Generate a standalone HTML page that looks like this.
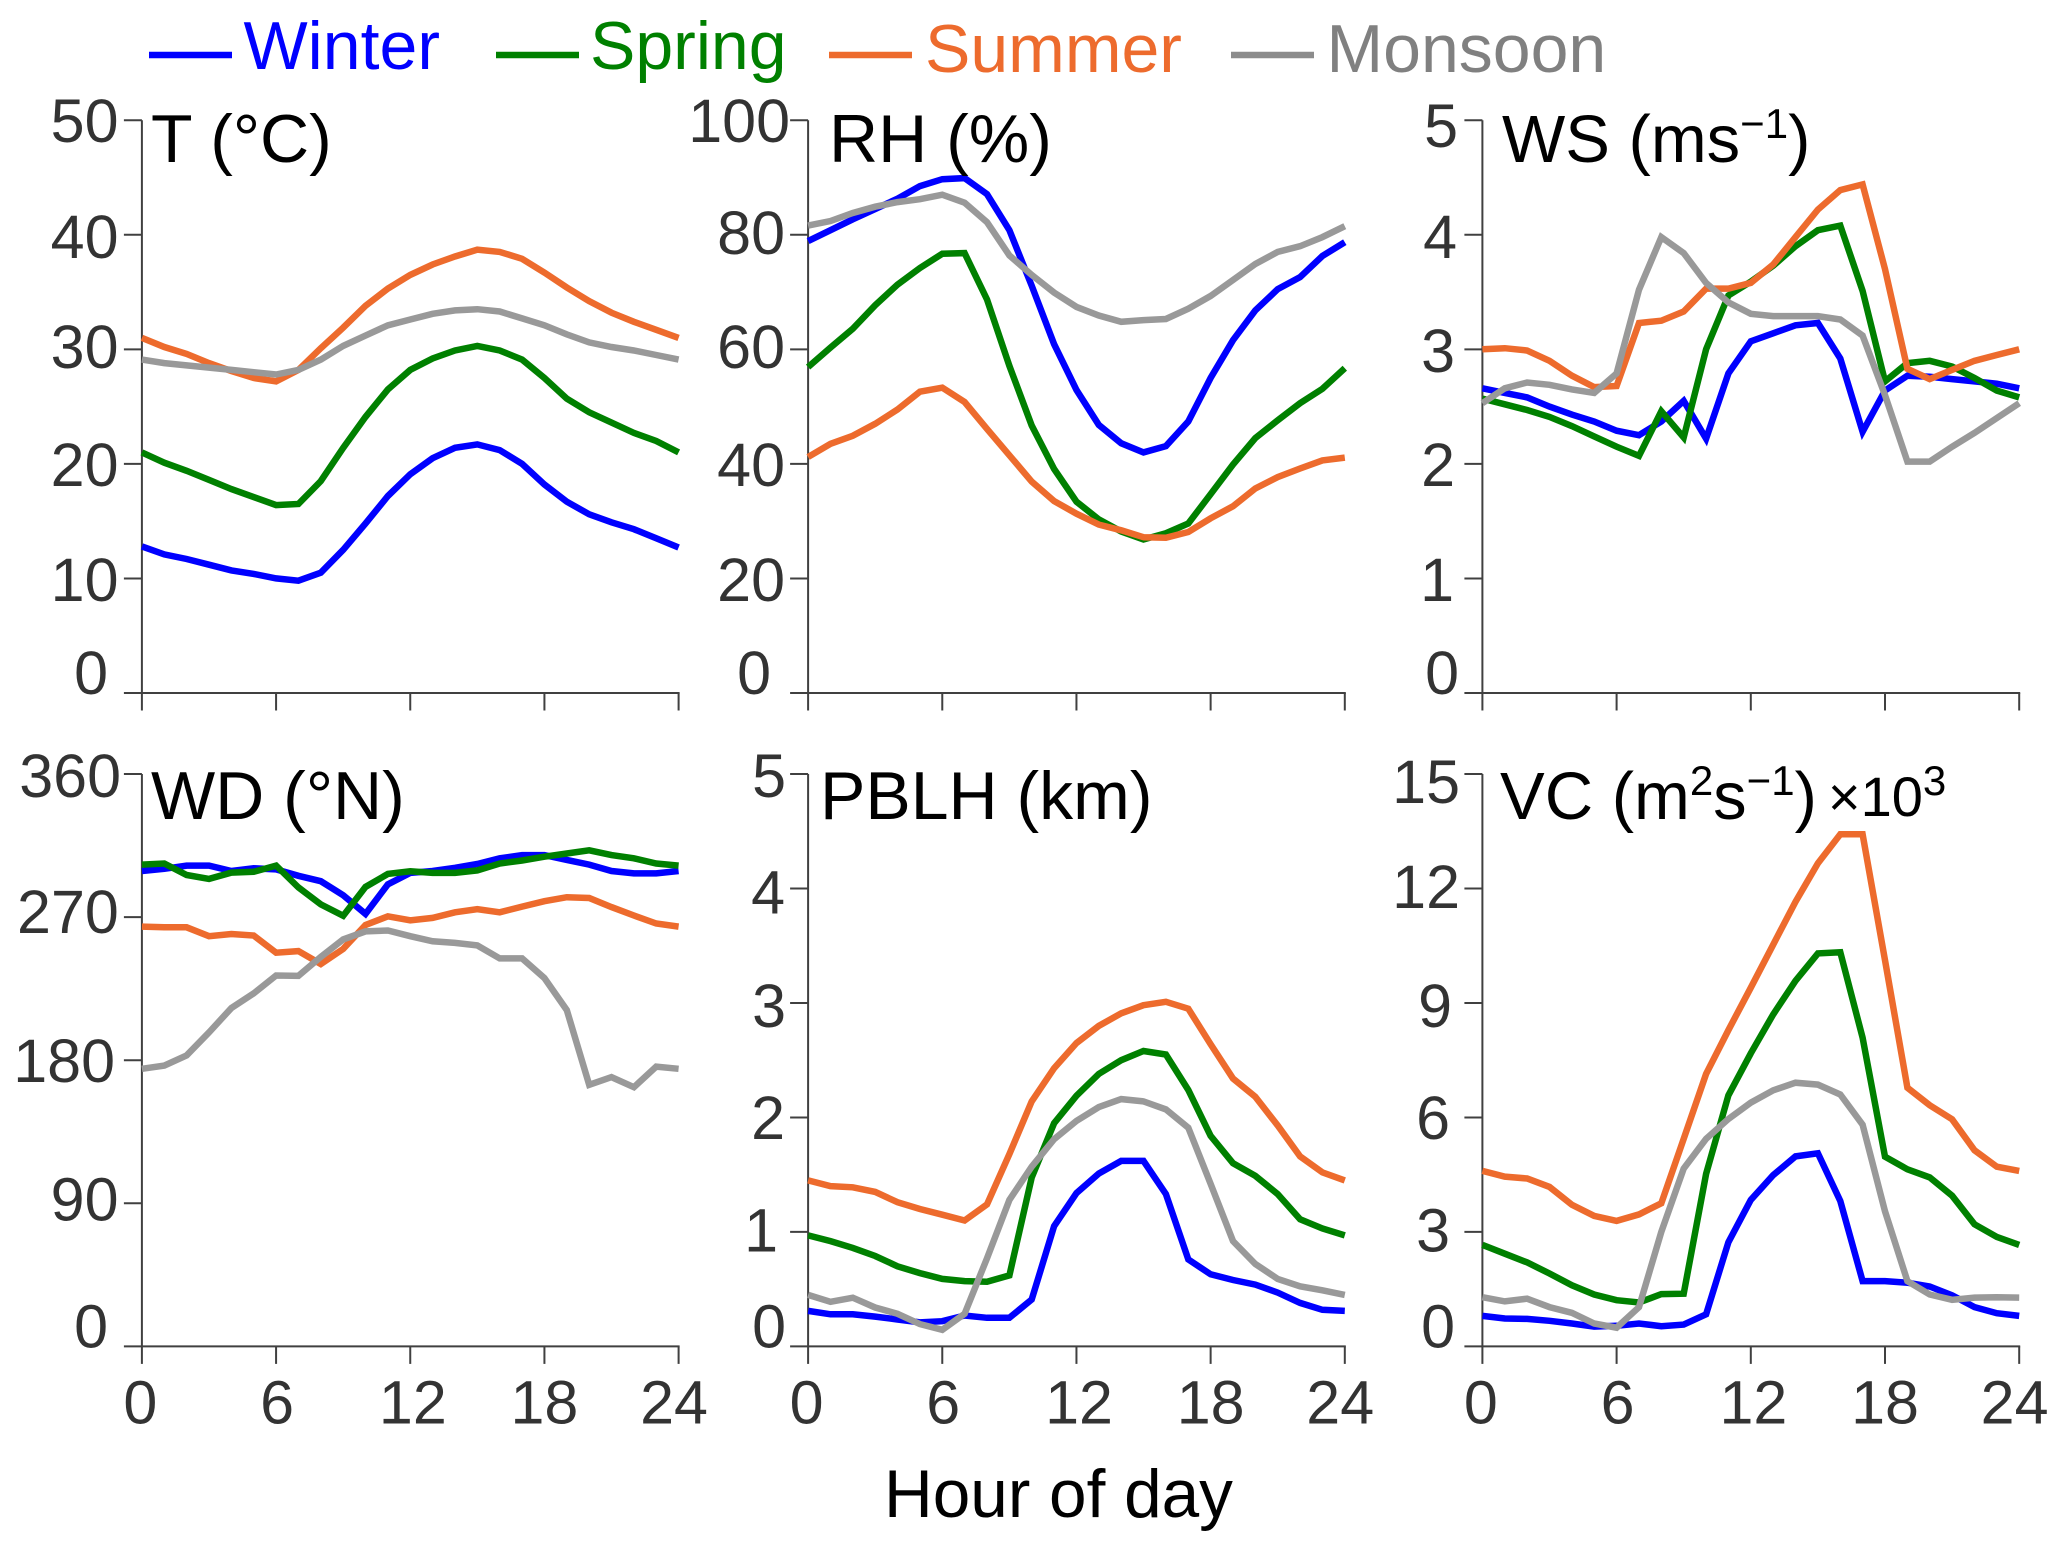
<!DOCTYPE html>
<html lang="en">
<head>
<meta charset="utf-8">
<title>Diurnal variation of meteorological parameters by season</title>
<style>
html,body{margin:0;padding:0;background:#fff;}
svg{display:block;font-family:"Liberation Sans",Arial,sans-serif;}
.title{font-size:68px;fill:#000;}
.title-ws{font-size:67px;}
.sup{font-size:42px;}
.sub-title{font-size:56px;}
.tick-label{font-size:61px;fill:#333333;}
.legend-text{font-size:68px;}
</style>
</head>
<body>
<svg id="chart" xmlns="http://www.w3.org/2000/svg" width="2067" height="1552" viewBox="0 0 2067 1552">
  <rect width="2067" height="1552" fill="#fff"/>
  <g>
    <line x1="149" x2="232" y1="55" y2="55" stroke="#0000ff" stroke-width="6.5"/>
    <text class="legend-text" x="243.5" y="69" fill="#0000ff">Winter</text>
    <line x1="496" x2="579" y1="55" y2="55" stroke="#008000" stroke-width="6.5"/>
    <text class="legend-text" x="590" y="69" fill="#008000">Spring</text>
    <line x1="829" x2="912" y1="55" y2="55" stroke="#ed6b2d" stroke-width="6.5"/>
    <text class="legend-text" x="925" y="72" fill="#ed6b2d">Summer</text>
    <line x1="1231" x2="1314" y1="55" y2="55" stroke="#8c8c8c" stroke-width="6.5"/>
    <text class="legend-text" x="1326.5" y="72" fill="#808080">Monsoon</text>
  </g>
  <g id="panels"></g>
  <g>
    <text class="title" x="151" y="162">T (°C)</text>
    <text class="title" x="829" y="162">RH (%)</text>
    <text class="title title-ws" x="1502" y="162">WS (ms<tspan class="sup" dy="-24">−1</tspan><tspan dy="24">)</tspan></text>
    <text class="title" x="151" y="819">WD (°N)</text>
    <text class="title" x="820" y="819">PBLH (km)</text>
    <text class="title title-ws" x="1500" y="819">VC (m<tspan class="sup" dy="-24">2</tspan><tspan dy="24">s</tspan><tspan class="sup" dy="-24">−1</tspan><tspan dy="24">)</tspan><tspan class="sub-title" dx="11" dy="-3">×10</tspan><tspan class="sup" dy="-21">3</tspan></text>
  </g>
  <text class="title" x="884" y="1517" style="font-size:67.5px">Hour of day</text>
</svg>
<script>
// ---------- data ----------
const hours = [0,1,2,3,4,5,6,7,8,9,10,11,12,13,14,15,16,17,18,19,20,21,22,23,24];
const seasons = ['winter','spring','summer','monsoon'];
const xTickLabels = [0,6,12,18,24];

const tempTicks = [0,10,20,30,40,50];
const tempWinter = [12.8,12.1,11.7,11.2,10.7,10.4,10.0,9.8,10.5,12.5,14.8,17.2,19.1,20.5,21.4,21.7,21.2,20.0,18.2,16.7,15.6,14.9,14.3,13.5,12.7];
const tempSpring = [21.0,20.1,19.4,18.6,17.8,17.1,16.4,16.5,18.5,21.4,24.1,26.5,28.2,29.2,29.9,30.3,29.9,29.1,27.5,25.7,24.5,23.6,22.7,22.0,21.0];
const tempSummer = [31.0,30.2,29.6,28.8,28.1,27.5,27.2,28.2,30.1,31.9,33.8,35.3,36.5,37.4,38.1,38.7,38.5,37.9,36.7,35.4,34.2,33.2,32.4,31.7,31.0];
const tempMonsoon = [29.1,28.8,28.6,28.4,28.2,28.0,27.8,28.2,29.1,30.3,31.2,32.1,32.6,33.1,33.4,33.5,33.3,32.7,32.1,31.3,30.6,30.2,29.9,29.5,29.1];

const rhTicks = [0,20,40,60,80,100];
const rhWinter = [78.9,80.8,82.7,84.5,86.3,88.5,89.7,89.9,87.1,80.8,71.1,60.9,52.9,46.8,43.6,42.0,43.1,47.4,55.0,61.6,66.8,70.5,72.6,76.3,78.7];
const rhSpring = [56.9,60.3,63.6,67.7,71.3,74.2,76.7,76.8,68.7,57.1,46.7,39.1,33.4,30.3,28.2,26.8,27.9,29.6,34.7,39.9,44.5,47.6,50.6,53.1,56.7];
const rhSummer = [41.2,43.5,44.9,47.0,49.5,52.6,53.3,50.8,46.1,41.5,36.9,33.5,31.3,29.4,28.4,27.2,27.1,28.1,30.5,32.6,35.7,37.7,39.2,40.6,41.1];
const rhMonsoon = [81.6,82.4,83.8,84.9,85.7,86.2,87.0,85.6,82.2,76.4,73.0,69.9,67.4,65.9,64.8,65.1,65.3,67.1,69.3,72.1,74.9,77.0,78.0,79.6,81.5];

const wsTicks = [0,1,2,3,4,5];
const wsWinter = [2.66,2.62,2.58,2.50,2.43,2.37,2.29,2.25,2.37,2.55,2.22,2.79,3.07,3.14,3.21,3.23,2.92,2.28,2.64,2.77,2.76,2.74,2.72,2.70,2.66];
const wsSpring = [2.57,2.52,2.47,2.41,2.33,2.24,2.15,2.07,2.46,2.23,3.00,3.47,3.59,3.73,3.90,4.04,4.08,3.51,2.72,2.88,2.90,2.85,2.75,2.64,2.58];
const wsSummer = [3.00,3.01,2.99,2.90,2.77,2.67,2.68,3.23,3.25,3.33,3.53,3.53,3.58,3.74,3.98,4.22,4.39,4.44,3.70,2.83,2.74,2.82,2.90,2.95,3.00];
const wsMonsoon = [2.53,2.66,2.71,2.69,2.65,2.62,2.79,3.52,3.98,3.84,3.58,3.41,3.31,3.29,3.29,3.29,3.26,3.12,2.60,2.02,2.02,2.15,2.27,2.40,2.53];

const wdTicks = [0,90,180,270,360];
const wdWinter = [299,300.4,302.4,302.4,299,300.7,300,296,292.6,283.8,272,290.6,297.8,299,301,303.4,307,309,309,306,303,299,297.5,297.5,299];
const wdSpring = [303,303.7,296.5,294,298,298.5,302.4,288.7,278,270.8,289,297.2,298.8,297.8,297.8,299.4,303.7,305.6,308,310,312,309,307,303.7,302.4];
const wdSummer = [264,263.6,263.6,258,259.4,258.4,247.6,248.6,240.5,250,265,270.5,268,269.5,273,275,273,276.6,280,282.5,282,276.3,271,266,264];
const wdMonsoon = [174.6,176.6,183,197.5,212.8,222,233.3,233,245,256,261,261.6,258,254.8,253.8,252.2,244,244,231.7,211.5,164.5,169.4,163,176,174.6];

const pblhTicks = [0,1,2,3,4,5];
const pblhWinter = [0.31,0.28,0.28,0.26,0.235,0.21,0.22,0.27,0.25,0.25,0.41,1.05,1.34,1.51,1.62,1.62,1.33,0.76,0.63,0.58,0.54,0.47,0.38,0.32,0.31];
const pblhSpring = [0.97,0.92,0.86,0.79,0.70,0.64,0.59,0.57,0.565,0.62,1.475,1.95,2.19,2.38,2.50,2.58,2.55,2.24,1.84,1.60,1.49,1.33,1.11,1.03,0.97];
const pblhSummer = [1.45,1.40,1.39,1.35,1.26,1.20,1.15,1.10,1.24,1.68,2.14,2.43,2.65,2.80,2.91,2.98,3.01,2.95,2.64,2.34,2.18,1.93,1.66,1.52,1.45];
const pblhMonsoon = [0.45,0.39,0.425,0.34,0.285,0.195,0.145,0.285,0.77,1.28,1.57,1.81,1.97,2.09,2.16,2.14,2.07,1.91,1.42,0.92,0.72,0.59,0.525,0.49,0.45];

const vcTicks = [0,3,6,9,12,15];
const vcWinter = [0.80,0.73,0.72,0.67,0.60,0.52,0.54,0.60,0.53,0.57,0.84,2.73,3.84,4.49,4.98,5.06,3.81,1.71,1.71,1.67,1.57,1.34,1.03,0.87,0.80];
const vcSpring = [2.66,2.43,2.20,1.91,1.60,1.36,1.21,1.15,1.37,1.38,4.52,6.58,7.68,8.70,9.58,10.30,10.33,8.09,4.97,4.64,4.43,3.95,3.20,2.87,2.66];
const vcSummer = [4.60,4.45,4.40,4.18,3.71,3.42,3.29,3.46,3.75,5.44,7.14,8.29,9.40,10.53,11.65,12.66,13.42,13.42,10.12,6.78,6.32,5.95,5.14,4.71,4.60];
const vcMonsoon = [1.29,1.18,1.25,1.03,0.88,0.60,0.49,1.03,3.00,4.66,5.44,5.96,6.39,6.71,6.91,6.86,6.60,5.81,3.54,1.71,1.36,1.22,1.28,1.29,1.28];

// ---------- layout and style ----------
const seasonColors = {winter:'#0000ff', spring:'#008000', summer:'#ed6b2d', monsoon:'#999999'};
const panelSpecs = [
  {key:'temperature', left:141.9, right:678.6, top:120.2, bottom:693, max:50, ticks:tempTicks,
   series:[tempWinter,tempSpring,tempSummer,tempMonsoon], showX:false,
   edge:[108,118.5,118.5,118.5,118.5,118.5], drop:[1,22.6,22.2,18.8,23.4,22]},
  {key:'relative-humidity', left:808.1, right:1344.8, top:120.2, bottom:693, max:100, ticks:rhTicks,
   series:[rhWinter,rhSpring,rhSummer,rhMonsoon], showX:false,
   edge:[771,785,785,785,785,790], drop:[1,22.6,22.2,18.8,19,22]},
  {key:'wind-speed', left:1482.4, right:2019.2, top:120.2, bottom:693, max:5, ticks:wsTicks,
   series:[wsWinter,wsSpring,wsSummer,wsMonsoon], showX:false,
   edge:[1459,1454,1455,1455,1457,1458], drop:[1,22.6,22.2,22.8,23.4,27]},
  {key:'wind-direction', left:141.9, right:678.6, top:774, bottom:1346.4, max:360, ticks:wdTicks,
   series:[wdWinter,wdSpring,wdSummer,wdMonsoon], showX:true,
   edge:[108,118.5,115,118.8,121], drop:[1,17.3,21.8,15.9,23]},
  {key:'pblh', left:808.1, right:1344.8, top:774, bottom:1346.4, max:5, ticks:pblhTicks,
   series:[pblhWinter,pblhSpring,pblhSummer,pblhMonsoon], showX:true,
   edge:[786,778,785,786,785,786], drop:[1,19.7,21.6,24,25,23]},
  {key:'ventilation-coefficient', left:1482.4, right:2019.2, top:774, bottom:1346.4, max:15, ticks:vcTicks,
   series:[vcWinter,vcSpring,vcSummer,vcMonsoon], showX:true,
   edge:[1455,1450,1450,1452,1460,1460], drop:[1,19.7,21.6,24,19.5,29]}
];
const xLabelNudge = [-1.5,1,2.6,0,-4.6];
const axisColor = '#404040';
const svgNS = 'http://www.w3.org/2000/svg';
const root = document.getElementById('panels');

function make(tag, parent, props) {
  const el = document.createElementNS(svgNS, tag);
  for (const k in props) el.setAttribute(k, props[k]);
  parent.appendChild(el);
  return el;
}
function xScale(p, h) { return p.left + (h / 24) * (p.right - p.left); }
function yScale(p, v) { return p.bottom - (v / p.max) * (p.bottom - p.top); }

panelSpecs.forEach(function (p) {
  const g = make('g', root, {});
  
  

  const yAxis = make('line', g, {x1:p.left, x2:p.left, y1:p.top, y2:p.bottom, stroke:axisColor, 'stroke-width':2});
  
  

  const xAxis = make('line', g, {x1:p.left - 18, x2:p.right + 1, y1:p.bottom, y2:p.bottom, stroke:axisColor, 'stroke-width':2});
  
  

  p.ticks.forEach(function (t, i) {
    const y = yScale(p, t);
    if (t !== 0) {
      const tick = make('line', g, {x1:p.left - 18, x2:p.left, y1:y, y2:y, stroke:axisColor, 'stroke-width':2});
      
      
    }
    const label = make('text', g, {x:p.edge[i], y:y + p.drop[i], 'text-anchor':'end', class:'tick-label'});
    label.textContent = t;
    
    
  });

  xTickLabels.forEach(function (h, i) {
    const x = xScale(p, h);
    const tick = make('line', g, {x1:x, x2:x, y1:p.bottom, y2:p.bottom + 17.5, stroke:axisColor, 'stroke-width':2});
    
    
    if (p.showX) {
      const label = make('text', g, {x:x + xLabelNudge[i], y:p.bottom + 77, 'text-anchor':'middle', class:'tick-label'});
      label.textContent = h;
      
      
    }
  });

  seasons.forEach(function (season, s) {
    const pts = hours.map(function (h, i) {
      return xScale(p, h).toFixed(1) + ',' + yScale(p, p.series[s][i]).toFixed(1);
    }).join(' ');
    const line = make('polyline', g, {points:pts, fill:'none', stroke:seasonColors[season], 'stroke-width':6.5, 'stroke-linejoin':'miter', 'stroke-miterlimit':4});
    
    
  });
});
</script>
</body>
</html>
